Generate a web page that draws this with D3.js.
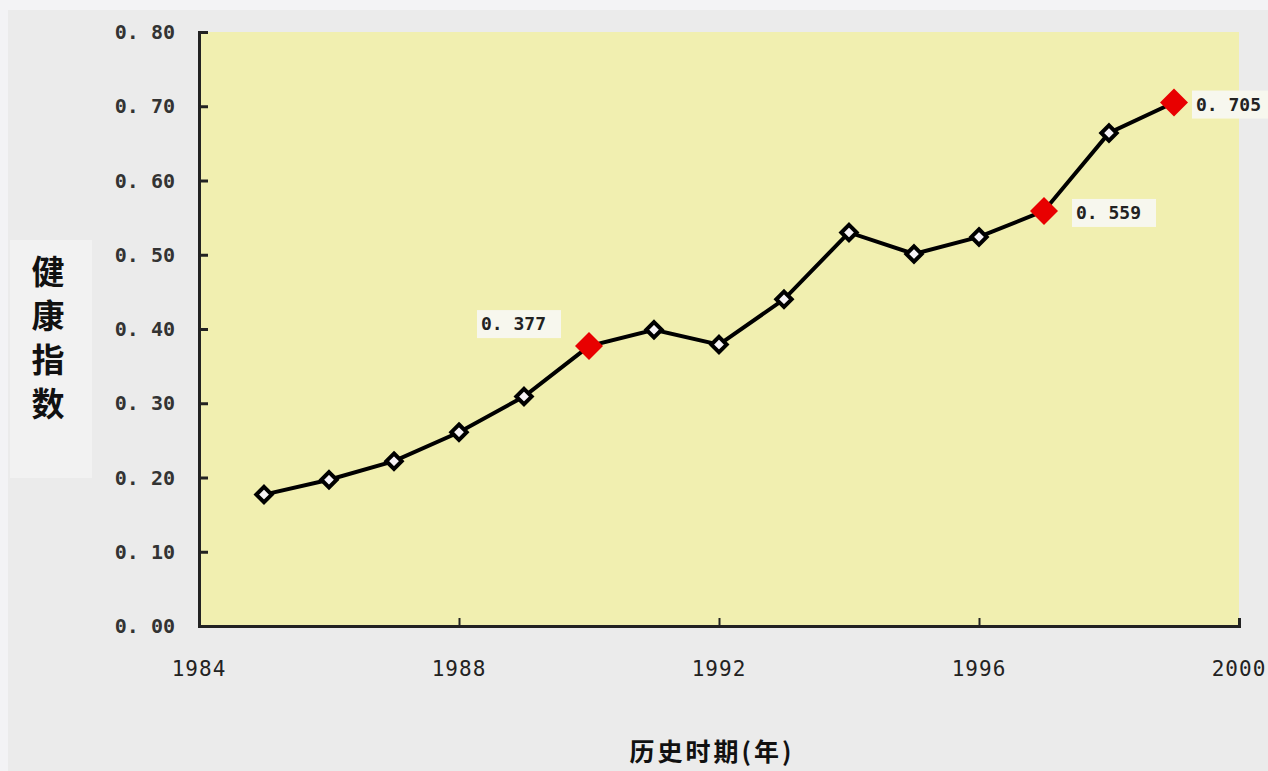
<!DOCTYPE html>
<html lang="zh">
<head>
<meta charset="UTF-8">
<title>健康指数</title>
<style>
  body { margin: 0; background: #ebebeb; }
  text { font-family: "DejaVu Sans Mono", monospace; }
</style>
</head>
<body>
<div id="chart"></div>
<script src="https://d3js.org/d3.v7.min.js"></script>
<script>
// data
var years = [1985, 1986, 1987, 1988, 1989, 1990, 1991, 1992, 1993, 1994, 1995, 1996, 1997, 1998, 1999];
var values = [0.177, 0.197, 0.222, 0.261, 0.309, 0.377, 0.399, 0.379, 0.440, 0.530, 0.501, 0.524, 0.559, 0.664, 0.705];
var highlighted = [1990, 1997, 1999];
var pointLabels = ["0.377", "0.559", "0.705"];
var yTicks = [0, 0.1, 0.2, 0.3, 0.4, 0.5, 0.6, 0.7, 0.8];
var xTicks = [1984, 1988, 1992, 1996, 2000];
var yTitle = ["健", "康", "指", "数"];
var xTitle = "历史时期(年)";

var W = 1268, H = 771;
var svg = d3.select("#chart").append("svg")
    .attr("width", W).attr("height", H);

// outer background
svg.append("rect").attr("width", W).attr("height", H).attr("fill", "#f3f3f5");
svg.append("rect").attr("x", 8).attr("y", 10).attr("width", W - 8).attr("height", H - 10)
    .attr("fill", "#ebebeb");

var x = d3.scaleLinear().domain([1984, 2000]).range([199, 1239]);
var y = d3.scaleLinear().domain([0, 0.8]).range([626, 32]);

// plot background
svg.append("rect")
    .attr("x", x(1984)).attr("y", y(0.8))
    .attr("width", x(2000) - x(1984)).attr("height", y(0) - y(0.8))
    .attr("fill", "#f1efb0");

// y title box
svg.append("rect").attr("x", 10).attr("y", 240).attr("width", 82).attr("height", 238)
    .attr("fill", "#f2f2f2");

// Y axis
var yAxis = d3.axisRight(y).tickValues(yTicks).tickSize(9).tickFormat("");
var gy = svg.append("g").attr("transform", "translate(" + x(1984) + ",0)").call(yAxis);
gy.select(".domain").attr("stroke", "#222").attr("stroke-width", 3);
gy.selectAll(".tick line").attr("stroke", "#222").attr("stroke-width", 3);

svg.append("g").selectAll("text.yl")
    .data(yTicks).enter().append("text")
    .attr("x", 175).attr("y", function (d) { return y(d); })
    .attr("dy", "0.35em")
    .attr("text-anchor", "end")
    .attr("font-size", 20).attr("font-weight", "bold").attr("fill", "#333")
    .text(function (d) { return d.toFixed(2).replace(".", ". "); });

// X axis
var xAxis = d3.axisTop(x).tickValues(xTicks).tickSize(8).tickFormat("");
var gx = svg.append("g").attr("transform", "translate(0," + y(0) + ")").call(xAxis);
gx.select(".domain").attr("stroke", "#222").attr("stroke-width", 3);
gx.selectAll(".tick line").attr("stroke", "#222").attr("stroke-width", 2);

svg.append("g").selectAll("text.xl")
    .data(xTicks).enter().append("text")
    .attr("x", function (d) { return x(d); }).attr("y", 669)
    .attr("dy", "0.35em")
    .attr("text-anchor", "middle")
    .attr("font-size", 21).attr("letter-spacing", 1).attr("fill", "#222")
    .text(function (d) { return d; });

// titles
svg.append("g").selectAll("text.yt")
    .data(yTitle).enter().append("text")
    .attr("x", 48).attr("y", function (d, i) { return 272 + i * 44; })
    .attr("dy", "0.35em")
    .attr("text-anchor", "middle")
    .style("font-family", "'Noto Sans CJK SC', sans-serif")
    .attr("font-size", 33).attr("font-weight", "bold").attr("fill", "#111")
    .text(function (d) { return d; });

svg.append("text")
    .attr("x", 712).attr("y", 752).attr("dy", "0.35em")
    .attr("text-anchor", "middle")
    .style("font-family", "'Noto Sans CJK SC', sans-serif")
    .attr("font-size", 25).attr("font-weight", "bold").attr("letter-spacing", 3).attr("fill", "#111")
    .text(xTitle);

// line
var line = d3.line()
    .x(function (d, i) { return x(years[i]); })
    .y(function (d) { return y(d); });
svg.append("path").datum(values)
    .attr("d", line)
    .attr("fill", "none").attr("stroke", "#000").attr("stroke-width", 4);

// markers
var diamond = d3.symbol().type(d3.symbolDiamond2);
var pts = years.map(function (yr, i) { return {year: yr, value: values[i]}; });
svg.append("g").selectAll("path.m")
    .data(pts.filter(function (d) { return highlighted.indexOf(d.year) < 0; }))
    .enter().append("path")
    .attr("transform", function (d) { return "translate(" + x(d.year) + "," + y(d.value) + ")"; })
    .attr("d", diamond.size(150))
    .attr("fill", "#f6f2f6").attr("stroke", "#000").attr("stroke-width", 4);

var hp = pts.filter(function (d) { return highlighted.indexOf(d.year) >= 0; });
svg.append("g").selectAll("path.h")
    .data(hp).enter().append("path")
    .attr("transform", function (d) { return "translate(" + x(d.year) + "," + y(d.value) + ")"; })
    .attr("d", diamond.size(500))
    .attr("fill", "#e80000");

// point labels
var labelPos = [{dx: -108, dy: -22}, {dx: 32, dy: 2}, {dx: 22, dy: 2}];
var lg = svg.append("g").selectAll("g.lab")
    .data(hp).enter().append("g")
    .attr("transform", function (d, i) {
        return "translate(" + (x(d.year) + labelPos[i].dx) + "," + (y(d.value) + labelPos[i].dy) + ")";
    });
lg.append("rect").attr("x", -4).attr("y", -14).attr("width", 84).attr("height", 28)
    .attr("fill", "#f7f7ee");
lg.append("text")
    .attr("dy", "0.35em")
    .attr("font-size", 18).attr("font-weight", "bold").attr("fill", "#222")
    .text(function (d, i) { return pointLabels[i].replace(".", ". "); });
</script>
</body>
</html>
